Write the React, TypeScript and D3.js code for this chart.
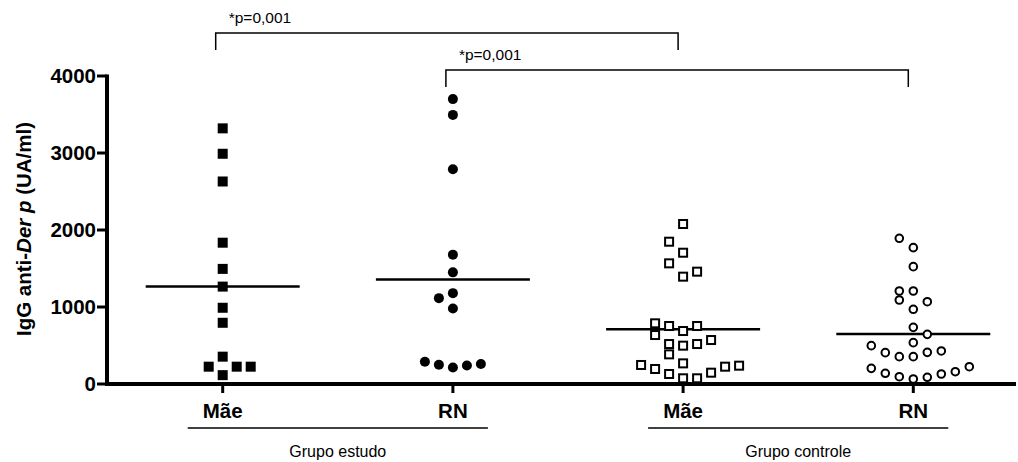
import React from 'react';
import * as d3 from 'd3';

// categorias no eixo x
const categories = ['Mãe estudo', 'RN estudo', 'Mãe controle', 'RN controle'];
const tickNames = ['Mãe', 'RN', 'Mãe', 'RN'];
const yTicks = [0, 1000, 2000, 3000, 4000];

// valores IgG anti-Der p (UA/ml)
const maeEstudo = [3320, 2990, 2630, 1835, 1495, 1265, 990, 795, 355, 225, 225, 225, 115];
const rnEstudo = [3700, 3495, 2790, 1680, 1450, 1180, 1115, 980, 290, 250, 215, 240, 260];
const maeControle = [2078, 1848, 1705, 1567, 1394, 1459, 788, 753, 688, 753, 636, 519, 498, 519, 571, 385, 268, 247, 195, 130, 74, 74, 147, 225, 238];
const rnControle = [1892, 1771, 1524, 1208, 1208, 1091, 1069, 970, 736, 645, 537, 498, 407, 355, 355, 411, 429, 203, 139, 95, 65, 87, 130, 160, 225];

// coluna de cada ponto (espalhamento)
const maeEstudoCol = [0, 0, 0, 0, 0, 0, 0, 0, 0, -1, 1, 2, 0];
const rnEstudoCol = [0, 0, 0, 0, 0, 0, -1, 0, -2, -1, 0, 1, 2];
const maeControleCol = [0, -1, 0, -1, 0, 1, -2, -1, 0, 1, -2, -1, 0, 1, 2, -1, 0, -3, -2, -1, 0, 1, 2, 3, 4];
const rnControleCol = [-1, 0, 0, -1, 0, -1, 1, 0, 0, 1, 0, -3, -2, -1, 0, 1, 2, -3, -2, -1, 0, 1, 2, 3, 4];

const groups = [
    { cat: categories[0], values: maeEstudo, cols: maeEstudoCol, symbol: 'square', filled: true },
    { cat: categories[1], values: rnEstudo, cols: rnEstudoCol, symbol: 'circle', filled: true },
    { cat: categories[2], values: maeControle, cols: maeControleCol, symbol: 'square', filled: false },
    { cat: categories[3], values: rnControle, cols: rnControleCol, symbol: 'circle', filled: false },
];

// comparações (p)
const comparisons = [
    { from: categories[0], to: categories[2], label: '*p=0,001' },
    { from: categories[1], to: categories[3], label: '*p=0,001' },
];

const groupLabels = [
    { from: categories[0], to: categories[1], label: 'Grupo estudo' },
    { from: categories[2], to: categories[3], label: 'Grupo controle' },
];

const App = () => {
    const width = 1018;
    const height = 462;
    const axisLeft = 107;
    const axisRight = 1016;

    const y = d3.scaleLinear().domain([0, 4000]).range([384, 76]);
    const x = d3.scalePoint<string>().domain(categories).range([222.7, 913.3]);
    const dx = d3.scaleLinear().domain([0, 1]).range([0, 14]); // largura de uma coluna

    const font = 'Arial, "Liberation Sans", sans-serif';

    return (
        <svg width={width} height={height} style={{ position: 'absolute', left: 0, top: 0 }}>
            <rect width={width} height={height} fill="white" />

            {/* linhas de média */}
            {groups.map(g => {
                const m = d3.mean(g.values) as number;
                return (
                    <line key={'m' + g.cat} x1={(x(g.cat) as number) - 77} x2={(x(g.cat) as number) + 77}
                          y1={y(m)} y2={y(m)} stroke="black" strokeWidth={2.5} />
                );
            })}

            {/* pontos */}
            {groups.map(g => g.values.map((v, i) => {
                const cx = (x(g.cat) as number) + dx(g.cols[i]);
                const cy = y(v);
                if (g.symbol === 'square') {
                    return g.filled
                        ? <rect key={g.cat + i} x={cx - 5} y={cy - 5} width={10} height={10} fill="black" />
                        : <rect key={g.cat + i} x={cx - 4} y={cy - 4} width={8} height={8} fill="white" stroke="black" strokeWidth={2} />;
                }
                return g.filled
                    ? <circle key={g.cat + i} cx={cx} cy={cy} r={5} fill="black" />
                    : <circle key={g.cat + i} cx={cx} cy={cy} r={3.8} fill="white" stroke="black" strokeWidth={2} />;
            }))}

            {/* eixo y */}
            <line x1={axisLeft} x2={axisLeft} y1={y(4000) - 1.5} y2={y(0) + 2} stroke="black" strokeWidth={4} />
            {yTicks.map(t => (
                <g key={'yt' + t}>
                    <line x1={axisLeft - 10} x2={axisLeft} y1={y(t)} y2={y(t)} stroke="black" strokeWidth={3} />
                    <text x={axisLeft - 11} y={y(t)} dy="0.36em" textAnchor="end" fontFamily={font}
                          fontWeight="bold" fontSize={20.5}>{t}</text>
                </g>
            ))}
            <text transform={`translate(31,${229}) rotate(-90)`} textAnchor="middle" fontFamily={font}
                  fontWeight="bold" fontSize={20.5}>
                IgG anti-<tspan fontStyle="italic">Der p</tspan> (UA/ml)
            </text>

            {/* eixo x */}
            <line x1={axisLeft - 2} x2={axisRight} y1={y(0)} y2={y(0)} stroke="black" strokeWidth={4} />
            {categories.map((c, i) => (
                <g key={'xt' + c}>
                    <line x1={x(c)} x2={x(c)} y1={y(0)} y2={y(0) + 9} stroke="black" strokeWidth={3} />
                    <text x={x(c)} y={418} textAnchor="middle" fontFamily={font} fontWeight="bold"
                          fontSize={20.5}>{tickNames[i]}</text>
                </g>
            ))}

            {/* grupos */}
            {groupLabels.map(g => {
                const a = (x(g.from) as number) - 35;
                const b = (x(g.to) as number) + 35;
                return (
                    <g key={g.label}>
                        <line x1={a} x2={b} y1={428} y2={428} stroke="black" strokeWidth={1.5} />
                        <text x={(a + b) / 2} y={457} textAnchor="middle" fontFamily={font} fontSize={16}>{g.label}</text>
                    </g>
                );
            })}

            {/* colchetes de significância */}
            {comparisons.map((c, i) => {
                const a = (x(c.from) as number) - 7;
                const b = (x(c.to) as number) - 5;
                const top = 33 + i * 37;
                return (
                    <g key={'cmp' + i}>
                        <path d={`M${a},${top + 17}V${top}H${b}V${top + 17}`} fill="none" stroke="black" strokeWidth={1.5} />
                        <text x={a + 13} y={top - 10} fontFamily={font} fontSize={15.5}>{c.label}</text>
                    </g>
                );
            })}
        </svg>
    );
};

export default App;
